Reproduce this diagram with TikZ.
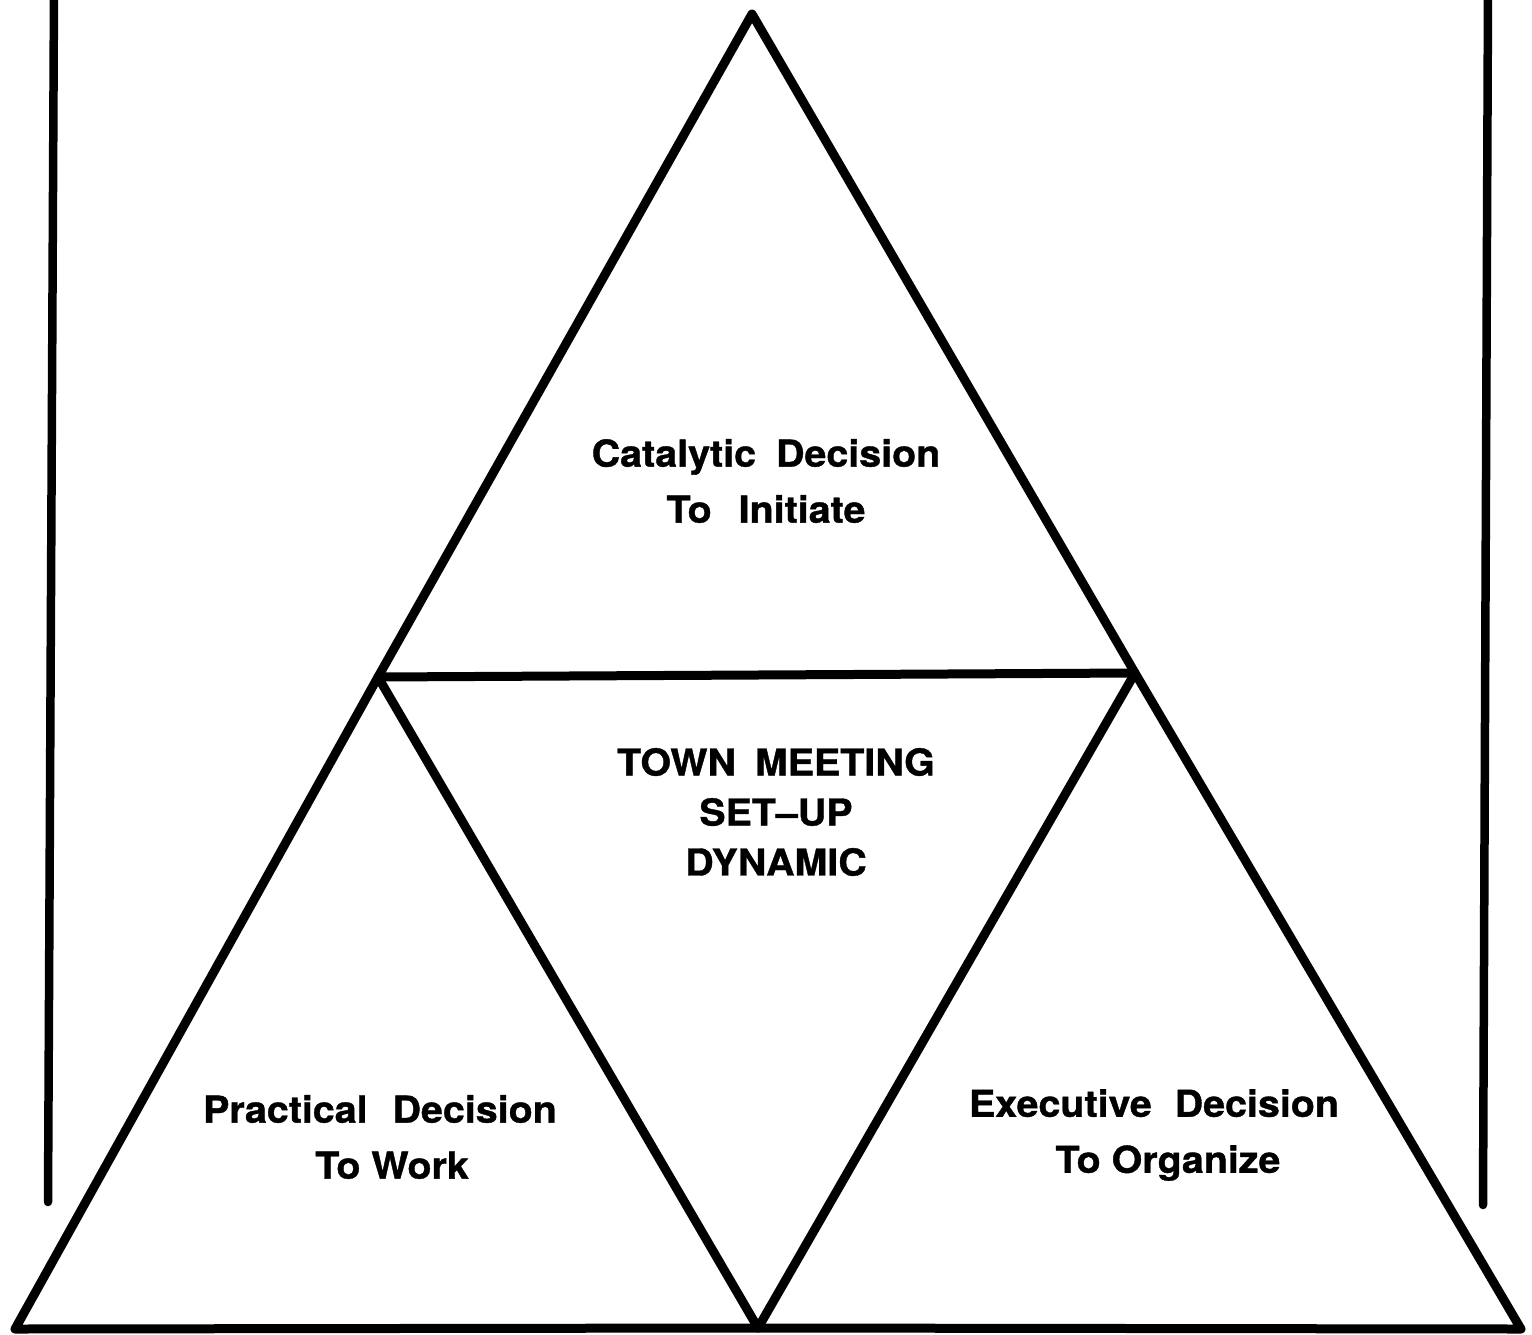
\documentclass[tikz,border=0pt]{standalone}
\usepackage{fontspec}
\setmainfont{TeX Gyre Heros}[FakeBold=1,FakeStretch=1.065]
\newcommand{\gapx}[1]{\hspace{#1pt}}
\begin{document}
\begin{tikzpicture}[x=1pt,y=-1pt,
  edge/.style={line width=9pt,line join=round,line cap=round},
  bar/.style={line width=8.5pt,line cap=round},
  lbl/.style={font=\fontsize{37}{56}\selectfont\bfseries,align=center,inner sep=0pt}]
\useasboundingbox[fill=white] (0,0) rectangle (1532,1334);
% vertices
\coordinate (A) at (752,14);
\coordinate (L) at (378,677);
\coordinate (R) at (1135,673);
\coordinate (BL) at (15,1329);
\coordinate (BM) at (758,1328);
\coordinate (BR) at (1521,1329);
\coordinate (VL1) at (54,-10);
\coordinate (VL2) at (48,1202);
\coordinate (VR1) at (1488,-10);
\coordinate (VR2) at (1483,1205);
% frame bars
\draw[bar] (VL1) -- (VL2);
\draw[bar] (VR1) -- (VR2);
% triangles
\draw[edge] (A) -- (L) -- (BL) -- (BM) -- (BR) -- (R) -- cycle;
\draw[edge] (L) -- (R);
\draw[edge] (L) -- (BM) -- (R);
% labels
\node[lbl] (cat) at (766,481) {Catalytic\gapx{9} Decision\\To\gapx{16} Initiate};
\node[lbl] (town) at (776,812) {TOWN\gapx{8} MEETING\\[-6pt]SET--UP\\[-6pt]DYNAMIC};
\node[lbl] (prac) at (380,1137) {Practical\gapx{14} Decision\\\hspace*{24pt}To Work};
\node[lbl] (exec) at (1154,1135) {Executive\gapx{12} Decision\\\hspace*{28pt}To Organize};
\end{tikzpicture}
\end{document}
